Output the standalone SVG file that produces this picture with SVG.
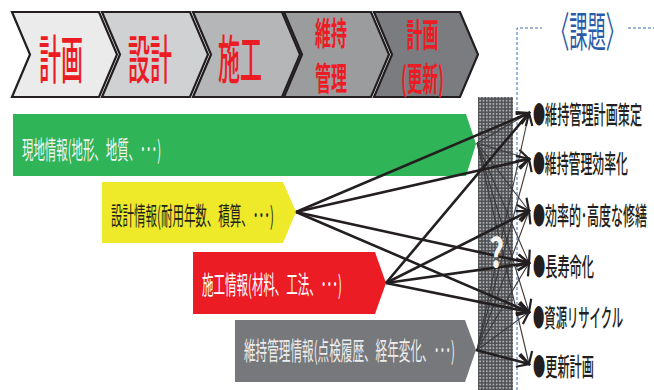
<svg xmlns="http://www.w3.org/2000/svg" width="654" height="390" viewBox="0 0 654 390">
<style>
text{font-family:"Noto Sans CJK JP","Noto Sans CJK SC",sans-serif;}
.chev{stroke:#231f20;stroke-width:2.2;stroke-linejoin:miter;}
.stg{fill:#ec1c24;font-weight:500;}
.stgb{fill:#ec1c24;font-weight:bold;}
.info{font-size:25px;}
.lbl{font-size:25px;fill:#231f20;font-weight:500;}
.thick{stroke:#231f20;stroke-width:2.6;fill:none;marker-end:url(#arr);}
.thin{stroke:#3a3a3c;stroke-width:1.1;fill:none;marker-end:url(#arr);}
.dash{stroke:#3b6db5;stroke-width:1;stroke-dasharray:3 2;fill:none;}
</style>
<defs>
<marker id="arr" markerUnits="userSpaceOnUse" viewBox="-15 -8 17 16" refX="0" refY="0" markerWidth="17" markerHeight="16" orient="auto">
<path d="M-12,-6 L0,0 L-12,6" fill="none" stroke="#231f20" stroke-width="2.2"/>
</marker>
<pattern id="grid" patternUnits="userSpaceOnUse" width="3.3" height="3.3">
<rect width="3.3" height="3.3" fill="#4f5054"/>
<rect x="0.8" y="0.8" width="1.8" height="1.8" fill="#aeafb1"/>
</pattern>
</defs>

<g id="stage-keikaku">
<polygon class="chev" fill="#ebebeb" points="12,12 99,12 117,54.5 99,97 12,97 30,54.5"/>
<text class="stg" x="39" y="79" font-size="52" textLength="44" lengthAdjust="spacingAndGlyphs">計画</text>
</g>
<g id="stage-sekkei">
<polygon class="chev" fill="#d0d1d3" points="102,12 190,12 208,54.5 190,97 102,97 120,54.5"/>
<text class="stg" x="128" y="79" font-size="52" textLength="44" lengthAdjust="spacingAndGlyphs">設計</text>
</g>
<g id="stage-seko">
<polygon class="chev" fill="#b5b6b8" points="193,12 282,12 300,54.5 282,97 193,97 211,54.5"/>
<text class="stg" x="218" y="79" font-size="52" textLength="44" lengthAdjust="spacingAndGlyphs">施工</text>
</g>
<g id="stage-iji">
<polygon class="chev" fill="#9b9c9e" points="284,12 371,12 389,54.5 371,97 284,97 302,54.5"/>
<text class="stgb" x="315" y="45" font-size="32" textLength="32" lengthAdjust="spacingAndGlyphs">維持</text>
<text class="stgb" x="315" y="90" font-size="32" textLength="32" lengthAdjust="spacingAndGlyphs">管理</text>
</g>
<g id="stage-koshin">
<polygon class="chev" fill="#7b7c7f" points="374,12 460,12 478,54.5 460,97 374,97 392,54.5"/>
<text class="stgb" x="406.5" y="47" font-size="33" textLength="32" lengthAdjust="spacingAndGlyphs">計画</text>
<text class="stgb" x="401" y="91" font-size="33" textLength="43" lengthAdjust="spacingAndGlyphs">(更新)</text>
</g>

<g id="info-genchi">
<polygon fill="#2fb457" points="13,114 466,114 476,144 466,176 13,176"/>
<text class="info" x="22" y="159" fill="#f2f2f2" textLength="139" lengthAdjust="spacingAndGlyphs">現地情報(地形、地質、･･･)</text>
</g>
<g id="info-sekkei">
<polygon fill="#eee929" points="102,182 283,182 296,212 283,243 102,243"/>
<text class="info" x="111" y="225" fill="#231f20" textLength="163" lengthAdjust="spacingAndGlyphs">設計情報(耐用年数、積算、･･･)</text>
</g>
<g id="info-seko">
<polygon fill="#ec1c24" points="193,252 375,252 386,283 375,314 193,314"/>
<text class="info" x="202" y="294" fill="#ffffff" textLength="140" lengthAdjust="spacingAndGlyphs">施工情報(材料、工法、･･･)</text>
</g>
<g id="info-iji">
<polygon fill="#77787b" points="235,320 465,320 476,350 465,382 235,382"/>
<text class="info" x="244" y="360" fill="#ececec" textLength="211" lengthAdjust="spacingAndGlyphs">維持管理情報(点検履歴、経年変化、･･･)</text>
</g>

<g id="column">
<rect x="478" y="97" width="35" height="293" fill="url(#grid)"/>
</g>

<g id="issues-frame">
<path class="dash" d="M517,390 V28 H542 M628,28 H654"/>
<text x="551" y="47" font-size="42" fill="#2a5ba8" textLength="73" lengthAdjust="spacingAndGlyphs">〈課題〉</text>
</g>

<g id="connectors">
<path class="thin" d="M477,143 L529,113"/>
<path class="thin" d="M477,143 L529,159"/>
<path class="thin" d="M477,143 L529,211"/>
<path class="thin" d="M477,143 L529,263"/>
<path class="thin" d="M477,143 L529,312"/>
<path class="thin" d="M477,143 L529,364"/>
<path class="thin" d="M477,350 L529,113"/>
<path class="thin" d="M477,350 L529,159"/>
<path class="thin" d="M477,350 L529,211"/>
<path class="thin" d="M477,350 L529,263"/>
<path class="thin" d="M477,350 L529,312"/>
<path class="thick" d="M296,212 L529,113"/>
<path class="thick" d="M296,212 L529,159"/>
<path class="thick" d="M296,212 L529,263"/>
<path class="thick" d="M296,212 L529,312"/>
<path class="thick" d="M386,283 L529,113"/>
<path class="thick" d="M386,283 L529,211"/>
<path class="thick" d="M386,283 L529,263"/>
<path class="thick" d="M386,283 L529,312"/>
<path class="thick" d="M476,350 L529,364"/>
</g>

<g id="question">
<text x="489" y="267" font-size="40" fill="#f4f4f4" font-weight="bold" textLength="15" lengthAdjust="spacingAndGlyphs">?</text>
</g>

<g id="issue-1"><text class="lbl" x="533" y="124" textLength="109" lengthAdjust="spacingAndGlyphs">●維持管理計画策定</text></g>
<g id="issue-2"><text class="lbl" x="533" y="173" textLength="95" lengthAdjust="spacingAndGlyphs">●維持管理効率化</text></g>
<g id="issue-3"><text class="lbl" x="533" y="225" textLength="114" lengthAdjust="spacingAndGlyphs">●効率的･高度な修繕</text></g>
<g id="issue-4"><text class="lbl" x="533" y="276" textLength="61" lengthAdjust="spacingAndGlyphs">●長寿命化</text></g>
<g id="issue-5"><text class="lbl" x="533" y="327" textLength="90" lengthAdjust="spacingAndGlyphs">●資源リサイクル</text></g>
<g id="issue-6"><text class="lbl" x="533" y="376" textLength="61" lengthAdjust="spacingAndGlyphs">●更新計画</text></g>
</svg>
